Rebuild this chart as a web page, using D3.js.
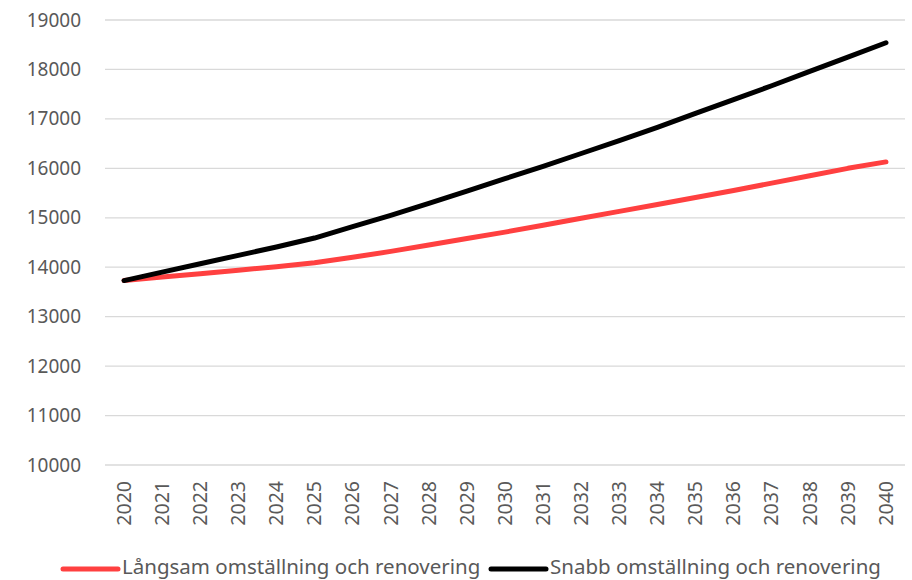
<!DOCTYPE html>
<html>
<head>
<meta charset="utf-8">
<script src="https://cdn.jsdelivr.net/npm/d3@7"></script>
<style>
  body { margin: 0; background: #fff; }
  text { font-family: "Noto Sans", "Open Sans", sans-serif; fill: #595959; }
</style>
</head>
<body>
<div id="chart"></div>
<script>
// Data
const years = d3.range(2020, 2041).map(String);
const langsam = [13730, 13800, 13870, 13940, 14010, 14090, 14200, 14320, 14450, 14580, 14710,
                 14850, 14990, 15130, 15270, 15410, 15550, 15700, 15850, 16000, 16130];
const snabb = [13730, 13900, 14070, 14240, 14410, 14590, 14820, 15050, 15290, 15540, 15790,
               16040, 16300, 16560, 16830, 17110, 17390, 17670, 17960, 18250, 18540];
const seriesNames = ["Långsam omställning och renovering", "Snabb omställning och renovering"];
const seriesColors = ["#ff4040", "#000000"];
const yTicks = d3.range(10000, 19001, 1000);

// Set the dimensions and margins of the graph
const W = 912, H = 580;
const margin = { top: 20, right: 7, bottom: 115, left: 105 },
    width = W - margin.left - margin.right,
    height = H - margin.top - margin.bottom;

const root = d3.select("#chart")
    .append("svg")
    .attr("width", W)
    .attr("height", H);

const svg = root.append("g")
    .attr("transform", `translate(${margin.left},${margin.top})`);

// X scale (category axis, points in the middle of each band)
const x = d3.scaleBand()
    .domain(years)
    .range([0, width]);

// Y scale
const y = d3.scaleLinear()
    .domain([10000, 19000])
    .range([height, 0]);

// Gridlines
svg.append("g")
    .selectAll("line")
    .data(yTicks)
    .join("line")
    .attr("x1", 0)
    .attr("x2", width)
    .attr("y1", d => y(d))
    .attr("y2", d => y(d))
    .attr("stroke", "#d9d9d9")
    .attr("stroke-width", 1.3);

// Y axis labels
const yAxis = svg.append("g")
    .call(d3.axisLeft(y).tickValues(yTicks).tickSize(0).tickPadding(24).tickFormat(d3.format("d")));
yAxis.select(".domain").remove();
yAxis.selectAll("text")
    .style("font-size", "19px")
    .style("font-family", "\"Noto Sans\", sans-serif")
    .attr("fill", "#595959");

// X axis labels (rotated)
const xAxis = svg.append("g")
    .attr("transform", `translate(0, ${height})`)
    .call(d3.axisBottom(x).tickSize(0).tickPadding(0));
xAxis.select(".domain").remove();
xAxis.selectAll("text")
    .style("font-size", "19.5px")
    .style("font-family", "\"Noto Sans\", sans-serif")
    .attr("fill", "#595959")
    .attr("text-anchor", "end")
    .attr("transform", "rotate(-90)")
    .attr("x", -16)
    .attr("y", 0)
    .attr("dy", "0.35em");

// Draw the lines
const line = d3.line()
    .x((d, i) => x(years[i]) + x.bandwidth() / 2)
    .y(d => y(d));

svg.selectAll(".series")
    .data([langsam, snabb])
    .join("path")
    .attr("class", "series")
    .attr("fill", "none")
    .attr("stroke", (d, i) => seriesColors[i])
    .attr("stroke-width", 5)
    .attr("stroke-linecap", "round")
    .attr("stroke-linejoin", "round")
    .attr("d", line);

// Legend
const legendX = [63, 491];
const legend = root.append("g")
    .selectAll("g")
    .data(seriesNames)
    .join("g")
    .attr("transform", (d, i) => `translate(${legendX[i]}, 569)`);

legend.append("line")
    .attr("x1", 0)
    .attr("x2", 55)
    .attr("stroke", (d, i) => seriesColors[i])
    .attr("stroke-width", 5)
    .attr("stroke-linecap", "round");

legend.append("text")
    .attr("x", 59)
    .attr("y", 5)
    .style("font-size", "20.5px")
    .text(d => d);
</script>
</body>
</html>
